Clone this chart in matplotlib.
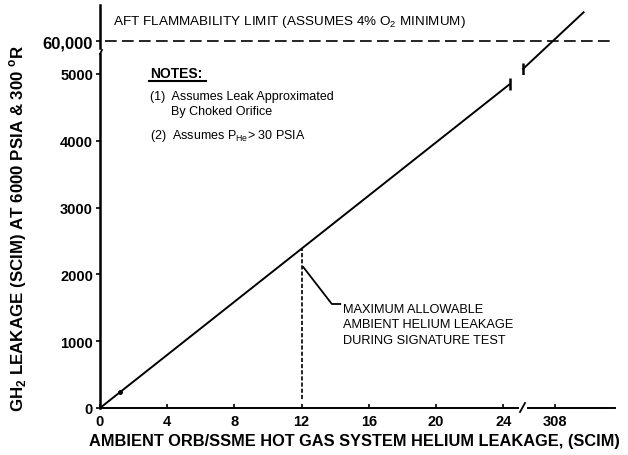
import matplotlib
matplotlib.use("Agg")
import matplotlib.pyplot as plt

# ---- data ----
he_leak = [0, 24.4]                 # SCIM helium (lower segment)
gh2_leak = [0, 4850]                # SCIM GH2
he_leak_upper = [306.1, 309.7]      # upper segment past the axis breaks
gh2_leak_upper = [59660, 60350]
flammability_limit = 60000
max_allow_he = 12
max_allow_gh2 = 2380
x_ticks = [0, 4, 8, 12, 16, 20, 24]
x_ticks_upper = [308]
y_ticks = [0, 1000, 2000, 3000, 4000, 5000]
y_tick_upper = [60000]
y_tick_upper_label = ["60,000"]

W, H = 628, 456
plt.rcParams['font.family'] = ['Liberation Sans', 'DejaVu Sans']
plt.rcParams['mathtext.fontset'] = 'custom'
plt.rcParams['mathtext.rm'] = 'Liberation Sans'
plt.rcParams['mathtext.bf'] = 'Liberation Sans:bold'
fig = plt.figure(figsize=(W / 100, H / 100), dpi=100)


def rect(l, t, r, b):
    return [l / W, 1 - b / H, (r - l) / W, (b - t) / H]


def fx(px):
    return px / W


def fy(py):
    return 1 - py / H


PX_X = 16.8          # pixels per SCIM helium
PX_Y = 66.8 / 1000   # pixels per SCIM GH2 (lower)
TY = 0.082           # pixels per SCIM GH2 (upper)
tickfont = dict(fontsize=10.5, fontweight='bold')

# ---- lower-left main axes ----
ax = fig.add_axes(rect(100, 55, 518, 409))
ax.set_xlim(0, 418 / PX_X)
ax.set_ylim(0, 354 / PX_Y)
ax.patch.set_alpha(0)
for s in ['top', 'right']:
    ax.spines[s].set_visible(False)
ax.spines['left'].set_linewidth(1.8)
ax.spines['bottom'].set_linewidth(1.4)
ax.set_xticks(x_ticks)
ax.set_xticklabels([str(v) for v in x_ticks], **tickfont)
ax.set_yticks(y_ticks)
ax.set_yticklabels([str(v) for v in y_ticks], **tickfont)
ax.tick_params(axis='x', direction='in', length=3, width=1.2, pad=4)
ax.tick_params(axis='y', direction='out', length=3, width=1.2, pad=2)

ax.plot(he_leak, gh2_leak, color='black', lw=1.4, solid_capstyle='butt')
ax.plot(he_leak[-1:], gh2_leak[-1:], marker='|', ms=8, mew=1.8, color='black')
ax.plot([1.2], [1.2 * gh2_leak[1] / he_leak[1]], marker='o', ms=2.5, color='black')

# vertical dashed marker at maximum allowable
ax.plot([max_allow_he, max_allow_he], [130, max_allow_gh2], color='black', lw=1.2,
        ls=(0, (2.5, 1.2)))
# leader line and annotation
ax.plot([12.1, 13.8, 14.3], [2110, 1557, 1557], color='black', lw=1.3)
ax.text(14.45, 1570, "MAXIMUM ALLOWABLE\nAMBIENT HELIUM LEAKAGE\nDURING SIGNATURE TEST",
        fontsize=9.2, va='top', ha='left', linespacing=1.36)

ax.set_xlabel("AMBIENT ORB/SSME HOT GAS SYSTEM HELIUM LEAKAGE, (SCIM)",
              fontsize=11.8, fontweight='bold')
ax.xaxis.set_label_coords(0.608, -0.07)
ax.set_ylabel(r"GH$_\mathbf{2}$ LEAKAGE (SCIM) AT 6000 PSIA & 300 $^\mathbf{o}$R",
              fontsize=12.2, fontweight='bold', va='center')
ax.yaxis.set_label_coords(-0.195, 0.51)

# x-axis break marks
ax.plot([1 + 2 / 418, 1 + 7 / 418], [-4 / 354, 5 / 354], transform=ax.transAxes,
        color='black', lw=1.3, clip_on=False)
# y-axis break curl (top of lower axis)
ax.plot([0, 2 / 418], [1, 1 + 4 / 354], transform=ax.transAxes,
        color='black', lw=1.3, clip_on=False)

# ---- lower-right axes (past x break) ----
axr = fig.add_axes(rect(528, 55, 615, 409))
axr.set_xlim(308 - 27 / PX_X, 308 + 60 / PX_X)
axr.set_ylim(0, 354 / PX_Y)
axr.patch.set_alpha(0)
for s in ['top', 'right', 'left']:
    axr.spines[s].set_visible(False)
axr.spines['bottom'].set_linewidth(1.4)
axr.set_yticks([])
axr.set_xticks(x_ticks_upper)
axr.set_xticklabels([str(v) for v in x_ticks_upper], **tickfont)
axr.tick_params(axis='x', direction='in', length=3, width=1.2, pad=4)

# ---- top axes (past y break) ----
axt = fig.add_axes(rect(100, 0, 620, 75))
axt.set_xlim(308 - 455 / PX_X, 308 + 65 / PX_X)
axt.set_ylim(flammability_limit - 33 / TY, flammability_limit + 42 / TY)
axt.patch.set_alpha(0)
for s in ['top', 'right', 'bottom']:
    axt.spines[s].set_visible(False)
axt.spines['left'].set_linewidth(1.8)
axt.spines['left'].set_bounds(flammability_limit - 7 / TY, flammability_limit + 36 / TY)
axt.set_xticks([])
axt.set_yticks(y_tick_upper)
axt.set_yticklabels(y_tick_upper_label, fontsize=12, fontweight='bold')
axt.tick_params(axis='y', direction='out', length=3, width=1.2, pad=2)
axt.axhline(flammability_limit, xmin=5 / 520, xmax=512 / 520, color='black', lw=1.2,
            ls=(0, (7, 3.2)))
axt.plot(he_leak_upper, gh2_leak_upper, color='black', lw=1.4)
axt.plot(he_leak_upper[:1], gh2_leak_upper[:1], marker='|', ms=8, mew=1.8, color='black')

fig.text(fx(113), fy(22), r"AFT FLAMMABILITY LIMIT (ASSUMES 4% O$_2$ MINIMUM)",
         fontsize=9.7, va='center', ha='left')

# ---- notes ----
fig.text(fx(150), fy(74), "NOTES:", fontsize=10, fontweight='bold', va='center', ha='left')
fig.add_artist(plt.Line2D([fx(149), fx(206)], [fy(82), fy(82)], color='black', lw=1.5))
fig.text(fx(150), fy(97), "(1)  Assumes Leak Approximated", fontsize=9, va='center', ha='left')
fig.text(fx(171), fy(112), "By Choked Orifice", fontsize=9, va='center', ha='left')
fig.text(fx(150), fy(136), r"(2)  Assumes P$_{\mathregular{He}}$> 30 PSIA", fontsize=9,
         va='center', ha='left')

fig.savefig("out.png", dpi=100)
